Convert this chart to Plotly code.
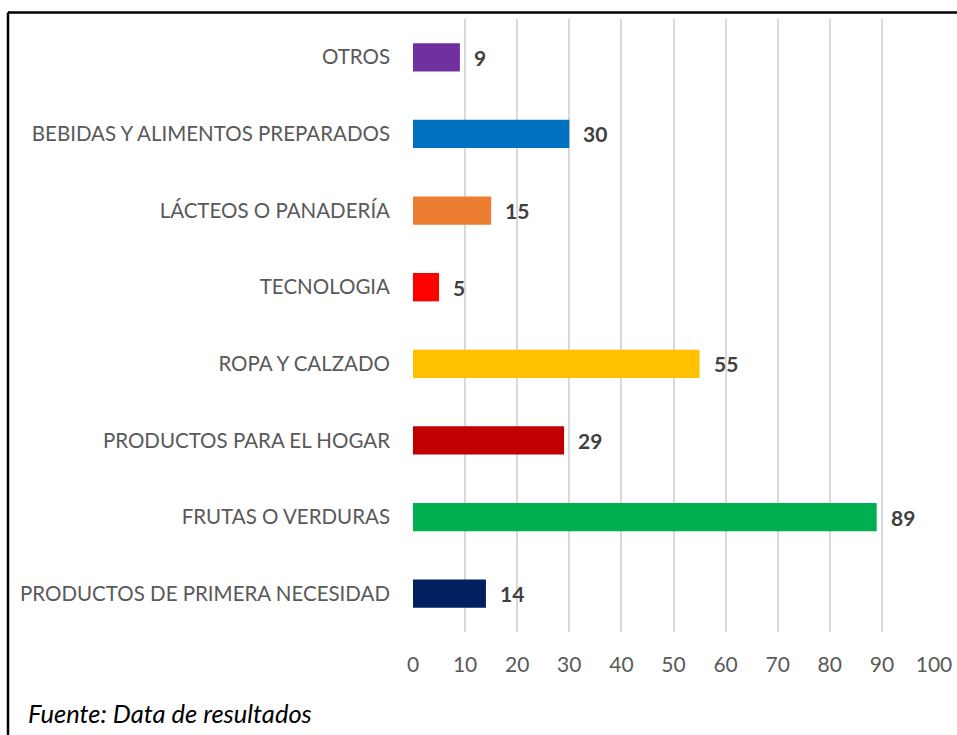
import plotly.graph_objects as go

categories = [
    "PRODUCTOS DE PRIMERA NECESIDAD",
    "FRUTAS O VERDURAS",
    "PRODUCTOS PARA EL HOGAR",
    "ROPA Y CALZADO",
    "TECNOLOGIA",
    "LÁCTEOS O PANADERÍA",
    "BEBIDAS Y ALIMENTOS PREPARADOS",
    "OTROS",
]
values = [14, 89, 29, 55, 5, 15, 30, 9]
colors = ["#002060", "#00B050", "#C00000", "#FFC000", "#FF0000", "#ED7D31", "#0070C0", "#7030A0"]
x_ticks = [0, 10, 20, 30, 40, 50, 60, 70, 80, 90, 100]
source_text = "Fuente: Data de resultados"

W, H = 957, 735
PL, PR, PT, PB = 413, 934, 19, 632   # plot area in page pixels
ML, MR, MT, MB = PL, W - PR, PT, H - PB
PW, PH = W - ML - MR, H - MT - MB

def px(xp):
    return (xp - ML) / PW

def py(yp):
    return 1 - (yp - MT) / PH

FONT = "Lato"

fig = go.Figure()
fig.add_trace(go.Bar(
    x=values, y=categories, orientation="h",
    marker=dict(color=colors, line=dict(width=0)),
    width=0.37, hoverinfo="skip",
))

for c, v in zip(categories, values):
    fig.add_annotation(
        x=v, y=c, xref="x", yref="y", text=f"<b>{v}</b>", showarrow=False,
        xanchor="left", xshift=12,
        font=dict(family=FONT, size=21, color="#404040"),
    )

fig.add_annotation(
    x=px(26), y=py(713), xref="paper", yref="paper", text=f"<i>{source_text}</i>",
    showarrow=False, xanchor="left", yanchor="middle",
    font=dict(family=FONT, size=25.5, color="#000000"),
)

fig.add_shape(type="line", xref="paper", yref="paper",
              x0=px(8), x1=px(960), y0=py(12.5), y1=py(12.5),
              line=dict(color="#000000", width=2.5))
fig.add_shape(type="line", xref="paper", yref="paper",
              x0=px(8), x1=px(8), y0=py(12.5), y1=py(740),
              line=dict(color="#000000", width=2.5))

fig.update_layout(
    width=W, height=H,
    margin=dict(l=ML, r=MR, t=MT, b=MB, pad=0, autoexpand=False),
    paper_bgcolor="white", plot_bgcolor="white",
    showlegend=False,
    font=dict(family=FONT, size=20.5, color="#595959"),
    xaxis=dict(
        range=[0, 100], tickvals=x_ticks, showgrid=True, gridcolor="#D9D9D9", gridwidth=1.5,
        zeroline=False, showline=False, ticks="", ticklabelstandoff=18, automargin=False,
        tickfont=dict(family=FONT, size=21, color="#595959"), fixedrange=True,
    ),
    yaxis=dict(
        range=[-0.5, 7.5], showgrid=False, zeroline=False, showline=False, ticks="",
        ticklabelstandoff=22, tickfont=dict(family=FONT, size=20.5, color="#595959"),
        fixedrange=True, automargin=False,
    ),
)

fig.write_html(
    "out.html",
    config={"displayModeBar": False},
    post_script="document.body.style.margin='0';document.documentElement.style.overflow='hidden';document.body.style.overflow='hidden';",
)
